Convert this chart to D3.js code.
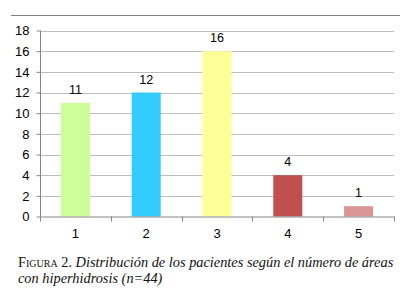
<!DOCTYPE html>
<html><head><meta charset="utf-8">
<script src="https://cdn.jsdelivr.net/npm/d3@7"></script>
<style>body{margin:0;background:#fff}svg{display:block}</style>
</head><body>
<svg id="c" width="409" height="298"></svg>
<script>
const categories = ["1","2","3","4","5"];
const values = [11, 12, 16, 4, 1];
const colors = ["#CCFF99","#33CCFF","#FFFF99","#C0504D","#D99694"];
const yTicks = [0,2,4,6,8,10,12,14,16,18];
const captionLead = "Figura 2.";
const captionLine1 = "Distribución de los pacientes según el número de áreas";
const captionLine2 = "con hiperhidrosis (n=44)";

(function () {
const svg = d3.select("#c");
const pLeft = 40, pRight = 394, pTop = 30.5, pBottom = 216.5;
const x = d3.scaleBand().domain(categories).range([pLeft, pRight]).paddingInner(0.59).paddingOuter(0.295);
const y = d3.scaleLinear().domain([0, 18]).range([pBottom, pTop]);

// top rule
svg.append("line").attr("x1", 11).attr("x2", 400).attr("y1", 15.5).attr("y2", 15.5)
  .attr("stroke", "#808080").attr("stroke-width", 1);

// gridlines
svg.append("g").selectAll("line").data(yTicks.filter(d => d > 0)).join("line")
  .attr("x1", pLeft).attr("x2", pRight)
  .attr("y1", d => Math.round(y(d)) + 0.5).attr("y2", d => Math.round(y(d)) + 0.5)
  .attr("stroke", "#BEBEBE").attr("stroke-width", 1);

// bars
svg.append("g").selectAll("rect").data(values).join("rect")
  .attr("x", (d, i) => x(categories[i]))
  .attr("width", x.bandwidth())
  .attr("y", d => y(d))
  .attr("height", d => y(0) - y(d))
  .attr("fill", (d, i) => colors[i]);

// data labels
svg.append("g").selectAll("text").data(values).join("text")
  .attr("x", (d, i) => x(categories[i]) + x.bandwidth() / 2)
  .attr("y", d => y(d) - 9)
  .attr("text-anchor", "middle")
  .attr("font-family", "Liberation Sans, Arial, sans-serif")
  .attr("font-size", 12.5).attr("fill", "#000")
  .text(d => d);

// y axis
const yAxis = d3.axisLeft(y).tickValues(yTicks).tickSize(4).tickPadding(7).tickFormat(d3.format("d"));
const gy = svg.append("g").attr("transform", `translate(${pLeft + 0.5},0)`).call(yAxis);
gy.select(".domain").attr("stroke", "#868686").attr("d", `M0,${pTop}V${pBottom}`);
gy.selectAll(".tick line").attr("stroke", "#868686");
gy.selectAll("text").attr("font-family", "Liberation Sans, Arial, sans-serif").attr("font-size", 13).attr("fill", "#000");

// x axis
const xPos = d3.scalePoint().domain(d3.range(categories.length + 1)).range([pLeft, pRight]);
const gx = svg.append("g").attr("transform", `translate(0,${pBottom})`);
gx.append("line").attr("x1", pLeft).attr("x2", pRight).attr("y1", 0.5).attr("y2", 0.5).attr("stroke", "#868686");
gx.selectAll("line.tk").data(xPos.domain()).join("line").attr("class", "tk")
  .attr("x1", d => Math.round(xPos(d)) + 0.5).attr("x2", d => Math.round(xPos(d)) + 0.5)
  .attr("y1", 0).attr("y2", 5).attr("stroke", "#868686");
const gxa = d3.axisBottom(x).tickSize(0).tickPadding(12);
const gxl = svg.append("g").attr("transform", `translate(0,${pBottom})`).call(gxa);
gxl.select(".domain").remove();
gxl.selectAll("text").attr("font-family", "Liberation Sans, Arial, sans-serif").attr("font-size", 13).attr("fill", "#000");

// caption
const serif = "Liberation Serif, Times New Roman, serif";
const cap1 = svg.append("text").attr("x", 18).attr("y", 267).attr("font-family", serif).attr("font-size", 13.5).attr("fill", "#111");
cap1.append("tspan").attr("font-variant", "small-caps").text(captionLead + " ");
cap1.append("tspan").attr("font-style", "italic").text(captionLine1);
const w = cap1.node().getComputedTextLength();
const fs = 13.5 * 374 / w;
cap1.attr("font-size", fs);
svg.append("text").attr("x", 18).attr("y", 283).attr("font-family", serif).attr("font-size", fs)
  .attr("font-style", "italic").attr("fill", "#111").text(captionLine2);
})();
</script>
</body></html>
